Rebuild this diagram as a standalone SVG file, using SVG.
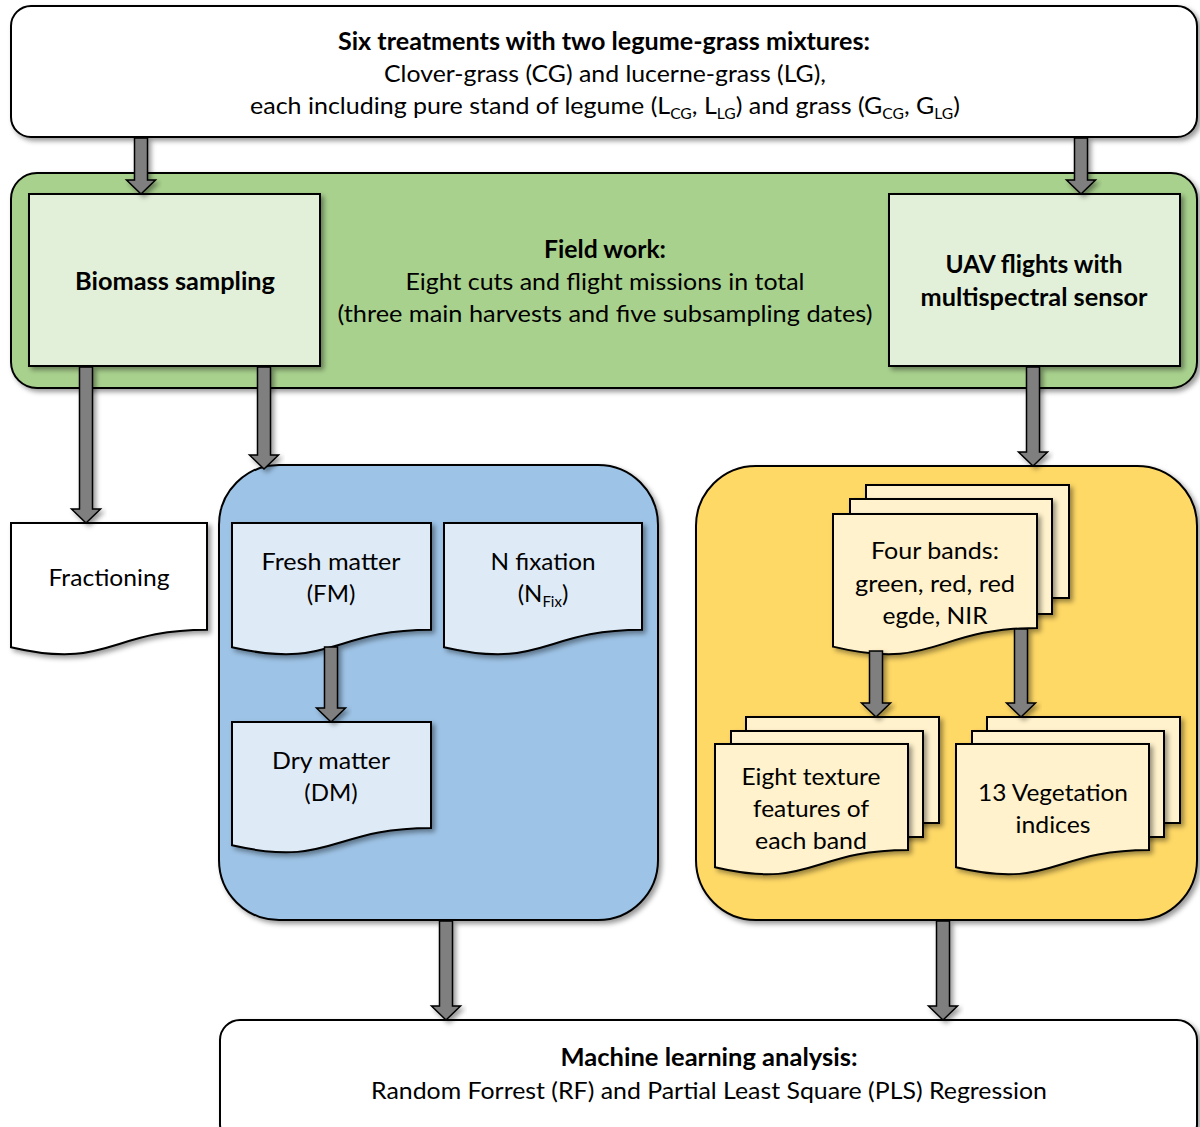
<svg xmlns="http://www.w3.org/2000/svg" width="1200" height="1127" viewBox="0 0 1200 1127">
<defs>
<filter id="sh" x="-10%" y="-10%" width="130%" height="130%">
<feDropShadow dx="3" dy="3" stdDeviation="2.5" flood-color="#000" flood-opacity="0.4"/>
</filter>
<style>
.box{stroke:#000;stroke-width:2;filter:url(#sh)}
.white{fill:#fff}
.green{fill:#a9d18e}
.lgreen{fill:#e2f0d9}
.blue{fill:#9dc3e6}
.lblue{fill:#deebf7}
.yellow{fill:#ffd966}
.lyellow{fill:#fff2cc}
.arr{fill:#7f7f7f;stroke:#000;stroke-width:1.5;filter:url(#sh)}
text{font-family:Lato,"Open Sans","Liberation Sans",sans-serif;font-size:24px;fill:#000;text-anchor:middle}
.b{font-weight:bold}
.sub{font-size:15px}
</style>
</defs>
<rect width="1200" height="1127" fill="#fff"/>

<g id="treatments">
<rect class="box white" x="11" y="6" width="1186" height="131" rx="20"/>
<text class="b" x="604" y="50" textLength="532" lengthAdjust="spacingAndGlyphs">Six treatments with two legume-grass mixtures:</text>
<text x="605" y="82" textLength="442" lengthAdjust="spacingAndGlyphs">Clover-grass (CG) and lucerne-grass (LG),</text>
<text x="605" y="114" textLength="710" lengthAdjust="spacingAndGlyphs">each including pure stand of legume (L<tspan class="sub" dy="5">CG</tspan><tspan dy="-5">, L</tspan><tspan class="sub" dy="5">LG</tspan><tspan dy="-5">) and grass (G</tspan><tspan class="sub" dy="5">CG</tspan><tspan dy="-5">, G</tspan><tspan class="sub" dy="5">LG</tspan><tspan dy="-5">)</tspan></text>
</g>

<g id="fieldwork">
<rect class="box green" x="11" y="173" width="1186" height="215" rx="26"/>
<text class="b" x="605" y="258" textLength="122" lengthAdjust="spacingAndGlyphs">Field work:</text>
<text x="605" y="290" textLength="399" lengthAdjust="spacingAndGlyphs">Eight cuts and flight missions in total</text>
<text x="605" y="322" textLength="535" lengthAdjust="spacingAndGlyphs">(three main harvests and five subsampling dates)</text>
</g>

<g id="biomass">
<rect class="box lgreen" x="29" y="194" width="291" height="172"/>
<text class="b" x="175" y="290" textLength="200" lengthAdjust="spacingAndGlyphs">Biomass sampling</text>
</g>

<g id="uav">
<rect class="box lgreen" x="889" y="194" width="291" height="172"/>
<text class="b" x="1034" y="273" textLength="177" lengthAdjust="spacingAndGlyphs">UAV flights with</text>
<text class="b" x="1034" y="306" textLength="227" lengthAdjust="spacingAndGlyphs">multispectral sensor</text>
</g>

<g id="fractioning">
<path class="box white" d="M11,523 H207 V629.7 C109,629.7 109,670.3 11,647.2 Z"/>
<text x="109" y="586" textLength="121" lengthAdjust="spacingAndGlyphs">Fractioning</text>
</g>

<g id="lab">
<rect class="box blue" x="219" y="465" width="439" height="455" rx="60"/>
</g>

<g id="freshmatter">
<path class="box lblue" d="M232,523 H431 V629.7 C331.5,629.7 331.5,670.3 232,647.2 Z"/>
<text x="331" y="570" textLength="139" lengthAdjust="spacingAndGlyphs">Fresh matter</text>
<text x="331" y="602">(FM)</text>
</g>

<g id="nfixation">
<path class="box lblue" d="M444,523 H642 V629.7 C543,629.7 543,670.3 444,647.2 Z"/>
<text x="543" y="570" textLength="105" lengthAdjust="spacingAndGlyphs">N fixation</text>
<text x="543" y="602">(N<tspan class="sub" dy="5">Fix</tspan><tspan dy="-5">)</tspan></text>
</g>

<g id="drymatter">
<path class="box lblue" d="M232,722 H431 V827.9 C331.5,827.9 331.5,868.2 232,845.3 Z"/>
<text x="331" y="769" textLength="118" lengthAdjust="spacingAndGlyphs">Dry matter</text>
<text x="331" y="801">(DM)</text>
</g>

<g id="remote">
<rect class="box yellow" x="696" y="466" width="501" height="454" rx="60"/>
</g>

<g id="fourbands">
<rect class="box lyellow" x="866" y="485" width="203" height="113"/>
<rect class="box lyellow" x="850" y="499" width="202" height="115"/>
<path class="box lyellow" d="M833,514 H1037 V627.9 C935,627.9 935,671.3 833,646.6 Z"/>
<text x="935" y="559" textLength="128" lengthAdjust="spacingAndGlyphs">Four bands:</text>
<text x="935" y="592" textLength="160" lengthAdjust="spacingAndGlyphs">green, red, red</text>
<text x="935" y="624" textLength="105" lengthAdjust="spacingAndGlyphs">egde, NIR</text>
</g>

<g id="texture">
<rect class="box lyellow" x="746" y="717" width="193" height="106"/>
<rect class="box lyellow" x="731" y="731" width="192" height="106"/>
<path class="box lyellow" d="M715,744 H908 V849.9 C811.5,849.9 811.5,890.2 715,867.3 Z"/>
<text x="811" y="785" textLength="139" lengthAdjust="spacingAndGlyphs">Eight texture</text>
<text x="811" y="817" textLength="116" lengthAdjust="spacingAndGlyphs">features of</text>
<text x="811" y="849" textLength="112" lengthAdjust="spacingAndGlyphs">each band</text>
</g>

<g id="vegetation">
<rect class="box lyellow" x="987" y="717" width="193" height="106"/>
<rect class="box lyellow" x="972" y="731" width="192" height="106"/>
<path class="box lyellow" d="M956,744 H1149 V849.9 C1052.5,849.9 1052.5,890.2 956,867.3 Z"/>
<text x="1053" y="801" textLength="150" lengthAdjust="spacingAndGlyphs">13 Vegetation</text>
<text x="1053" y="833" textLength="75" lengthAdjust="spacingAndGlyphs">indices</text>
</g>

<g id="ml">
<rect class="box white" x="220" y="1020" width="977" height="125" rx="20"/>
<text class="b" x="709" y="1066" textLength="297" lengthAdjust="spacingAndGlyphs">Machine learning analysis:</text>
<text x="709" y="1099" textLength="676" lengthAdjust="spacingAndGlyphs">Random Forrest (RF) and Partial Least Square (PLS) Regression</text>
</g>

<g id="connectors">
<path class="arr" d="M134.5,138 V180 H126.5 L141,194 L155.5,180 H147.5 V138 Z"/>
<path class="arr" d="M1074.5,138 V180 H1066.5 L1081,194 L1095.5,180 H1087.5 V138 Z"/>
<path class="arr" d="M79.5,367 V509 H71.5 L86,523 L100.5,509 H92.5 V367 Z"/>
<path class="arr" d="M257.5,367 V455 H249.5 L264,469 L278.5,455 H270.5 V367 Z"/>
<path class="arr" d="M1026.5,367 V452 H1018.5 L1033,466 L1047.5,452 H1039.5 V367 Z"/>
<path class="arr" d="M324.5,647 V708 H316.5 L331,722 L345.5,708 H337.5 V647 Z"/>
<path class="arr" d="M869.5,651 V703 H861.5 L876,717 L890.5,703 H882.5 V651 Z"/>
<path class="arr" d="M1014.5,629 V703 H1006.5 L1021,717 L1035.5,703 H1027.5 V629 Z"/>
<path class="arr" d="M439.5,921 V1006 H431.5 L446,1020 L460.5,1006 H452.5 V921 Z"/>
<path class="arr" d="M936.5,921 V1006 H928.5 L943,1020 L957.5,1006 H949.5 V921 Z"/>
</g>
</svg>
